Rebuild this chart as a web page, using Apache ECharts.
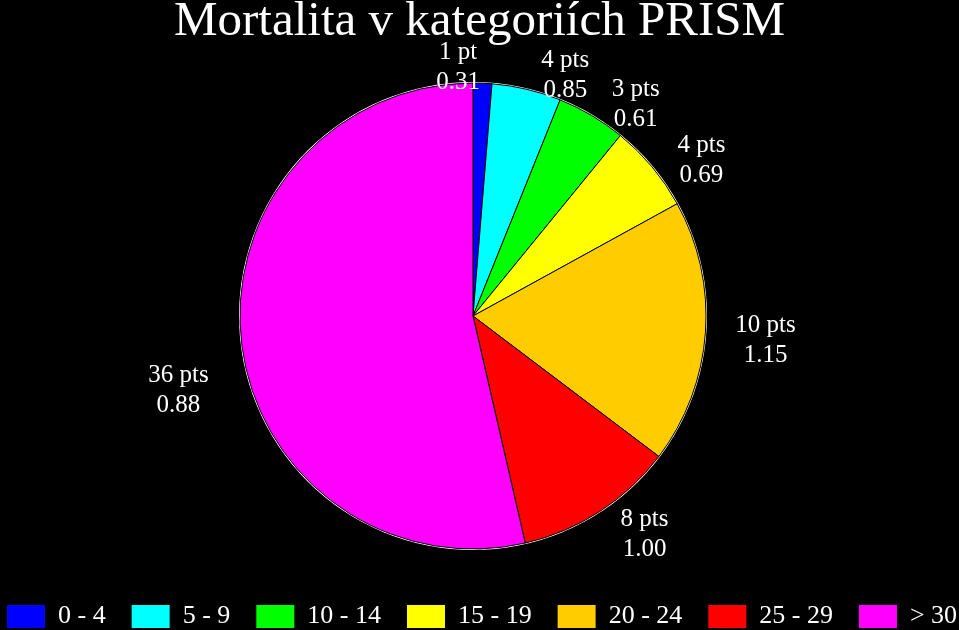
<!DOCTYPE html>
<html>
<head>
<meta charset="utf-8">
<script src="https://cdn.jsdelivr.net/npm/echarts@6/dist/echarts.min.js"></script>
<style>
html,body{margin:0;padding:0;background:#000;}
#c{width:959px;height:630px;}
</style>
</head>
<body>
<div id="c"></div>
<script>
const categories = ['0 - 4', '5 - 9', '10 - 14', '15 - 19', '20 - 24', '25 - 29', '> 30'];
const shares = [1.3, 4.8, 4.8, 6.1, 18.3, 11.1, 53.6];
const points = ['1 pt', '4 pts', '3 pts', '4 pts', '10 pts', '8 pts', '36 pts'];
const mortality = ['0.31', '0.85', '0.61', '0.69', '1.15', '1.00', '0.88'];
const colors = ['#0000FF', '#00FFFF', '#00FF00', '#FFFF00', '#FFCC00', '#FF0000', '#FF00FF'];

const FONT = '"Liberation Serif", "Times New Roman", serif';
const chart = echarts.init(document.getElementById('c'));
const data = categories.map((c, i) => ({
  name: c,
  value: shares[i],
  itemStyle: { color: colors[i] },
  label: { formatter: points[i] + '\n' + mortality[i] }
}));

chart.setOption({
  backgroundColor: '#000',
  animation: false,
  title: {
    text: 'Mortalita v kategoriích PRISM',
    left: 'center',
    top: -7,
    textStyle: { fontFamily: FONT, fontSize: 49, fontWeight: 'normal', color: '#fff' }
  },
  legend: {
    data: categories,
    left: 5,
    top: 603,
    padding: 0,
    itemWidth: 40,
    itemHeight: 25,
    itemGap: 24,
    icon: 'rect',
    textStyle: { fontFamily: FONT, fontSize: 26, color: '#fff', padding: [0, 0, 0, 7] }
  },
  series: [
    {
      type: 'pie',
      silent: true,
      center: [473, 316],
      radius: [0, 234],
      label: { show: false },
      labelLine: { show: false },
      data: [{ name: '_ring', value: 1, itemStyle: { color: '#fff' } }],
      z: 1
    },
    {
      type: 'pie',
      center: [473, 316],
      radius: [0, 233],
      startAngle: 90,
      clockwise: true,
      avoidLabelOverlap: false,
      z: 2,
      itemStyle: { borderColor: '#000', borderWidth: 1 },
      label: {
        show: true,
        position: 'outside',
        color: '#fff',
        fontFamily: FONT,
        fontSize: 25,
        lineHeight: 30
      },
      labelLine: { show: false, length: 20, length2: 8 },
      labelLayout: function (p) {
        const hw = p.labelRect.width / 2;
        if (p.dataIndex === 6) return { align: 'center', dx: -hw, dy: 46 };
        if (p.dataIndex === 0) return { align: 'center', dx: hw - 60, dy: 4 };
        return { align: 'center', dx: hw - 3, dy: 6 };
      },
      data: data
    }
  ]
});
</script>
</body>
</html>
